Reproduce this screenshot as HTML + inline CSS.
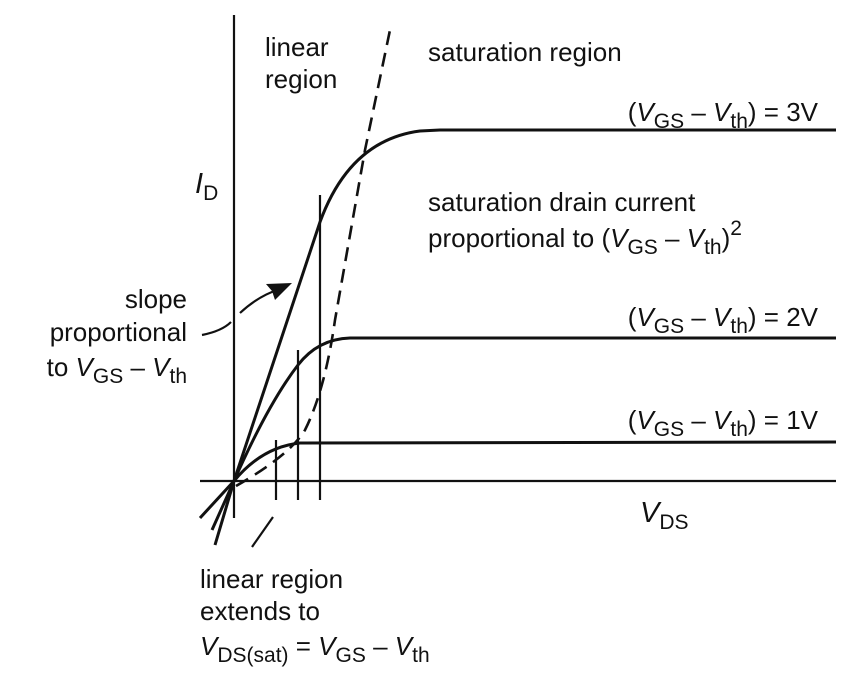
<!DOCTYPE html>
<html><head><style>
html,body{margin:0;padding:0;background:#fff;}
svg{display:block;}
text{font-family:"Liberation Sans",sans-serif;font-size:26px;fill:#111;}
.s{font-size:21px;}
</style></head><body>
<svg width="862" height="691" viewBox="0 0 862 691">
<g stroke="#111" fill="none" stroke-width="2.2">
<line x1="234" y1="15" x2="234" y2="518"/>
<line x1="200" y1="481" x2="836" y2="481"/>
<line x1="276" y1="440" x2="276" y2="500"/>
<line x1="298" y1="350" x2="298" y2="500"/>
<line x1="320" y1="195" x2="320" y2="500"/>
<g stroke-width="3">
<path d="M200,518 L234,481 Q262,447 300,443 L836,442"/>
<path d="M212,530 L234,481 Q268,404 298,365 Q318,339 350,338 L836,338"/>
<path d="M215,545 L234,481 L320,222 Q350,140 420,131 L440,130 L836,130"/>
</g>
<path d="M236,486 Q290,455 305,430 Q325,390 335,320 L365,150 L390,30" stroke-dasharray="14,8" stroke-width="2.6"/>
<path d="M202,335 Q222,331 231,322"/>
<path d="M240,313 Q258,296 280,289"/>
<line x1="252" y1="547" x2="273" y2="517"/>
</g>
<path d="M292,283 L266,284 L272,291 L275,300 Z" fill="#111"/>
<text x="265" y="56">linear</text>
<text x="265" y="88">region</text>
<text x="428" y="61">saturation region</text>
<text x="818" y="121" text-anchor="end">(<tspan font-style="italic">V</tspan><tspan class="s" dy="7">GS</tspan><tspan dy="-7"> – </tspan><tspan font-style="italic">V</tspan><tspan class="s" dy="7">th</tspan><tspan dy="-7">) = 3V</tspan></text>
<text x="818" y="326" text-anchor="end">(<tspan font-style="italic">V</tspan><tspan class="s" dy="7">GS</tspan><tspan dy="-7"> – </tspan><tspan font-style="italic">V</tspan><tspan class="s" dy="7">th</tspan><tspan dy="-7">) = 2V</tspan></text>
<text x="818" y="429" text-anchor="end">(<tspan font-style="italic">V</tspan><tspan class="s" dy="7">GS</tspan><tspan dy="-7"> – </tspan><tspan font-style="italic">V</tspan><tspan class="s" dy="7">th</tspan><tspan dy="-7">) = 1V</tspan></text>
<text x="195" y="193" style="font-size:29px"><tspan font-style="italic">I</tspan><tspan class="s" dy="7">D</tspan></text>
<text x="428" y="211">saturation drain current</text>
<text x="428" y="247">proportional to (<tspan font-style="italic">V</tspan><tspan class="s" dy="7">GS</tspan><tspan dy="-7"> – </tspan><tspan font-style="italic">V</tspan><tspan class="s" dy="7">th</tspan><tspan dy="-7">)</tspan><tspan class="s" dy="-12">2</tspan></text>
<text x="187" y="308" text-anchor="end">slope</text>
<text x="187" y="341" text-anchor="end">proportional</text>
<text x="187" y="376" text-anchor="end">to <tspan font-style="italic">V</tspan><tspan class="s" dy="7">GS</tspan><tspan dy="-7"> – </tspan><tspan font-style="italic">V</tspan><tspan class="s" dy="7">th</tspan></text>
<text x="640" y="522" style="font-size:29px"><tspan font-style="italic">V</tspan><tspan class="s" dy="7">DS</tspan></text>
<text x="200" y="588">linear region</text>
<text x="200" y="620">extends to</text>
<text x="200" y="655"><tspan font-style="italic">V</tspan><tspan class="s" dy="7">DS(sat)</tspan><tspan dy="-7"> = </tspan><tspan font-style="italic">V</tspan><tspan class="s" dy="7">GS</tspan><tspan dy="-7"> – </tspan><tspan font-style="italic">V</tspan><tspan class="s" dy="7">th</tspan></text>
</svg>
</body></html>
